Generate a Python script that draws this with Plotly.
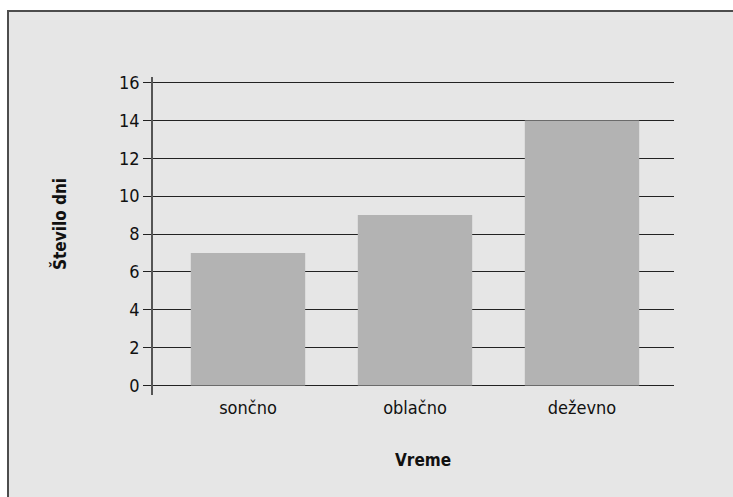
import plotly.graph_objects as go

categories = ["sončno", "oblačno", "deževno"]
values = [7, 9, 14]
y_ticks = [0, 2, 4, 6, 8, 10, 12, 14, 16]

# body margin removed by post_script, so figure coords == page coords
W, H = 733, 497
L, R, T, B = 153, 674, 77, 395

def px(x):
    return (x - L) / (R - L)

def py(y):
    return (B - y) / (B - T)

BG = "#e6e6e6"
FONT = "DejaVu Sans Condensed, DejaVu Sans"

fig = go.Figure(go.Bar(x=categories, y=values, marker=dict(color="#b3b3b3", line=dict(width=0)),
                       width=0.685, hoverinfo="skip"))

fig.update_layout(
    width=W, height=H,
    margin=dict(l=L, r=W - R, t=T, b=H - B, pad=0),
    paper_bgcolor=BG, plot_bgcolor=BG,
    font=dict(family=FONT, size=18, color="#111"),
    showlegend=False,
    shapes=[
        dict(type="rect", xref="paper", yref="paper", x0=px(-5), x1=px(W + 5), y0=py(-5), y1=py(10),
             fillcolor="white", line=dict(width=0), layer="below"),
        dict(type="rect", xref="paper", yref="paper", x0=px(-5), x1=px(7), y0=py(-5), y1=py(H + 5),
             fillcolor="white", line=dict(width=0), layer="below"),
        dict(type="line", xref="paper", yref="paper", x0=px(8), x1=px(8), y0=py(10), y1=py(H + 5),
             line=dict(color="#4d4d4d", width=2)),
        dict(type="line", xref="paper", yref="paper", x0=px(7), x1=px(W + 5), y0=py(11), y1=py(11),
             line=dict(color="#4d4d4d", width=2)),
    ],
    annotations=[
        dict(text="<b>Število dni</b>", xref="paper", yref="paper", x=px(59), y=py(224),
             xanchor="center", yanchor="middle",
             textangle=-90, showarrow=False, font=dict(size=17, family=FONT, color="#111")),
        dict(text="<b>Vreme</b>", xref="paper", yref="paper", x=px(423), y=py(460),
             xanchor="center", yanchor="middle",
             showarrow=False, font=dict(size=17, family=FONT, color="#111")),
    ],
)

fig.update_xaxes(
    type="category", range=[-(248 - L) / 167, -(248 - L) / 167 + (R - L) / 167],
    showgrid=False, zeroline=False, showline=False, ticks="", ticklen=0,
    tickfont=dict(size=18, family=FONT),
)

ppu = (385.5 - 82.5) / 16
fig.update_yaxes(
    range=[-(B - 385.5) / ppu, 16 + (82.5 - T) / ppu],
    tickvals=y_ticks, ticktext=[str(v) for v in y_ticks],
    showgrid=True, gridcolor="#222", gridwidth=1,
    zeroline=False, showline=True, linecolor="#555", linewidth=1.5,
    ticks="outside", ticklen=8, tickcolor="#222", tickwidth=1,
    tickfont=dict(size=18, family=FONT),
)

fig.write_html(
    "out.html",
    config={"displayModeBar": False},
    post_script=(
        "document.documentElement.style.overflow='hidden';"
        "document.body.style.overflow='hidden';"
        "document.body.style.margin='0';"
    ),
)
